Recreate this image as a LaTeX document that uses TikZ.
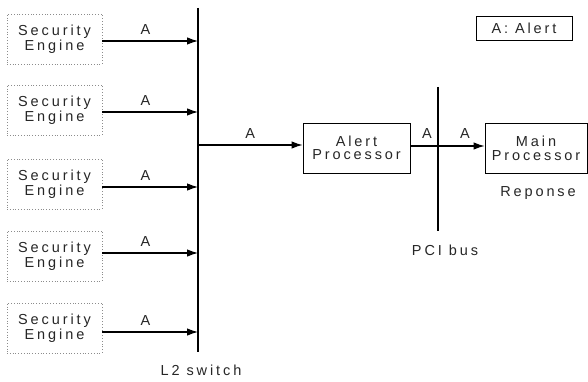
\documentclass[tikz,border=0pt]{standalone}
\usepackage{fontspec}
\setmainfont{Liberation Sans}[LetterSpace=20]
\usetikzlibrary{arrows.meta}
\begin{document}
\begin{tikzpicture}[x=1pt,y=-1pt,
  every node/.style={font=\fontsize{14.5}{13.5}\selectfont, text=black!85},
  engine/.style={draw=black!45, dotted, line width=0.8pt, minimum width=95pt,
    minimum height=50pt, align=center, inner sep=0pt},
  unit/.style={draw, line width=0.9pt, minimum width=107pt, minimum height=50pt,
    align=center, inner sep=0pt},
  flow/.style={line width=1.1pt, -{Latex[length=11pt,width=7.5pt]}},
  bus/.style={line width=1.6pt},
  lbl/.style={inner sep=0pt}]
\useasboundingbox (0,0) rectangle (588,382);

% security engines on the left
\node[engine] (se1) at (54.5,39) {Security\\Engine};
\node[engine] (se2) at (54.5,110) {Security\\Engine};
\node[engine] (se3) at (54.5,184) {Security\\Engine};
\node[engine] (se4) at (54.5,256) {Security\\Engine};
\node[engine] (se5) at (54.5,328) {Security\\Engine};

% L2 switch
\coordinate (swtop) at (198,8);
\coordinate (swbot) at (198,352);
\draw[bus] (swtop) -- (swbot);
\node[lbl] (swlabel) at (201,370) {L2 switch};

% engine alerts into the switch
\foreach \i/\dy in {1/-2,2/-2,3/-3,4/3,5/-4}{
  \draw[flow] ([yshift=\dy pt]se\i.east) -- ([yshift=\dy pt]se\i.east -| swtop)
    node[lbl, pos=0.45, above=6pt] {A};
}

% alert processor
\node[unit] (ap) at (356.5,148) {Alert\\Processor};
\coordinate (swout) at (198,145);
\draw[flow] (swout) -- (swout -| ap.west) node[lbl, midway, above=6pt] {A};

% PCI bus
\coordinate (pcitop) at (438,87);
\coordinate (pcibot) at (438,231);
\draw[line width=1.3pt] (pcitop) -- (pcibot);
\node[lbl] (pcilabel) at (445,250) {PCI bus};

% main processor
\node[unit, minimum width=102pt] (mp) at (536,148.5) {Main\\Processor};
\coordinate (apout) at (410,146);
\draw[flow] (apout) -- (apout -| mp.west);
\node[lbl] (a1) at (427,134) {A};
\node[lbl] (a2) at (465,134) {A};
\node[lbl] (resp) at (538,193) {Reponse};

% legend
\node[draw, line width=0.9pt, minimum width=96pt, minimum height=24pt, inner sep=0pt]
  (legend) at (524,28) {A: Alert};
\end{tikzpicture}
\end{document}
